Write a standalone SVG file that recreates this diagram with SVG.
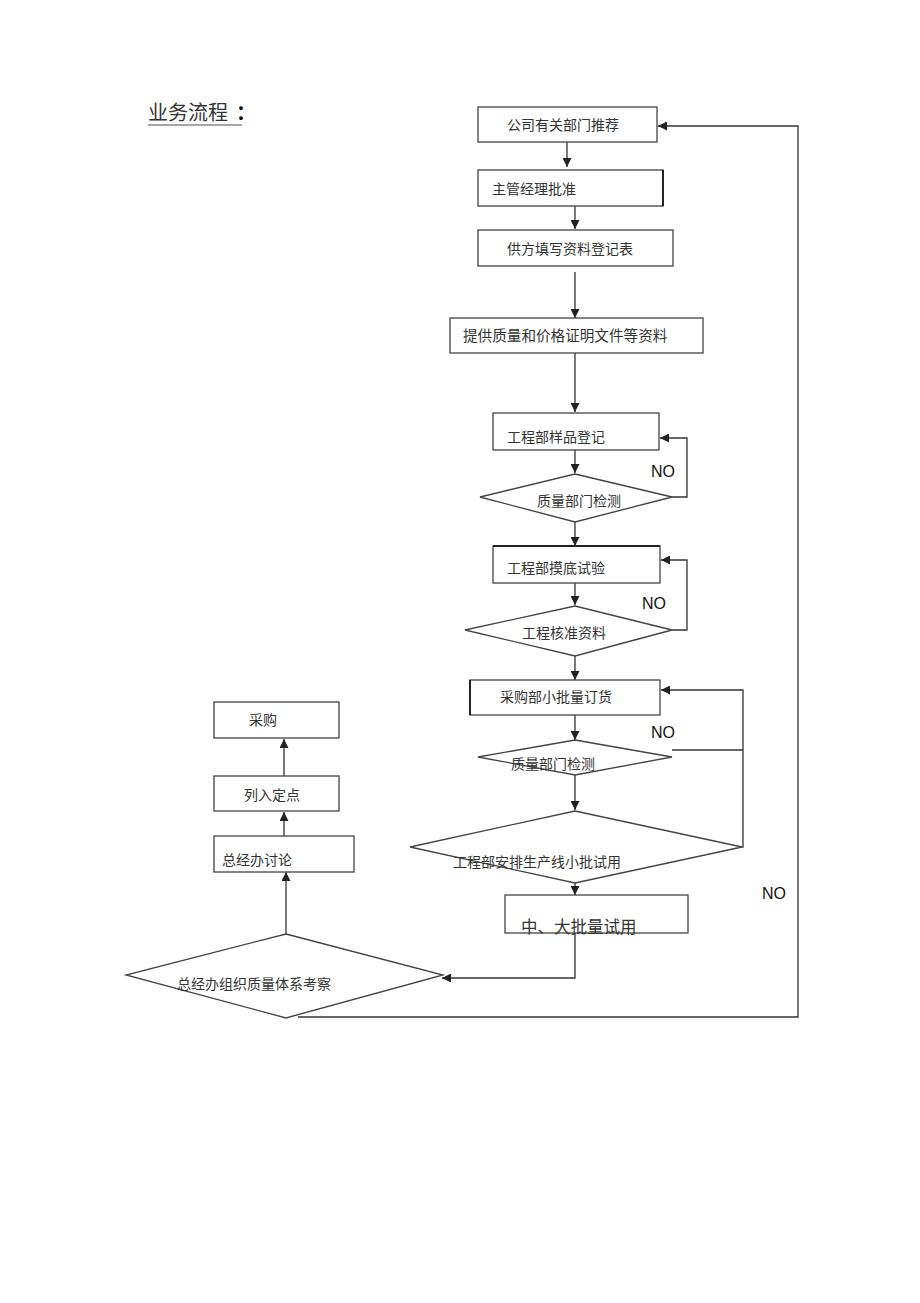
<svg xmlns="http://www.w3.org/2000/svg" width="920" height="1303" viewBox="0 0 920 1303">
<defs>
<marker id="ah" viewBox="0 0 10 10" refX="10" refY="5" markerWidth="9" markerHeight="9" markerUnits="userSpaceOnUse" orient="auto"><path d="M0,0 L10,5 L0,10 z" fill="#222"/></marker>
</defs>
<style>
.b{fill:#fff;stroke:#444;stroke-width:1.3}
.t{font-family:"Noto Sans CJK SC","Liberation Serif",sans-serif;font-size:14px;fill:#333}
.no{font-family:"Liberation Sans",Arial,sans-serif;font-size:16px;fill:#111}
.c{fill:none;stroke:#333;stroke-width:1.3}
.a{marker-end:url(#ah)}
</style>
<rect width="920" height="1303" fill="#fff"/>
<g id="title">
<text x="148" y="120" style="font-family:'Noto Sans CJK SC',sans-serif;font-size:20px;fill:#333">业务流程</text>
<text x="236" y="120" style="font-family:'Noto Sans CJK SC',sans-serif;font-size:20px;fill:#111;font-weight:bold">：</text>
<line x1="148" y1="125" x2="242" y2="125" stroke="#888" stroke-width="1.5"/>
</g>
<g id="connectors">
<path class="c a" d="M567,142 V167"/>
<path class="c a" d="M575,206 V229"/>
<path class="c a" d="M575,272 V318"/>
<path class="c a" d="M575,353 V412"/>
<path class="c a" d="M575,450 V473"/>
<path class="c a" d="M672,497 H687 V438 H660"/>
<path class="c a" d="M575,522 V546"/>
<path class="c a" d="M575,583 V605"/>
<path class="c a" d="M672,630 H687 V560 H661"/>
<path class="c a" d="M575,656 V680"/>
<path class="c a" d="M575,715 V740"/>
<path class="c" d="M672,750 H743"/>
<path class="c a" d="M742,847 H743 V690 H661"/>
<path class="c a" d="M575,775 V810"/>
<path class="c a" d="M575,883 V895"/>
<path class="c a" d="M575,926 V978 H442"/>
<path class="c a" d="M298,1017 H798 V126 H658"/>
<path class="c a" d="M286,934 V872"/>
<path class="c a" d="M284,836 V812"/>
<path class="c a" d="M284,776 V739"/>
</g>
<g id="n1"><rect class="b" x="478" y="107" width="179" height="35"/><text class="t" x="507" y="130">公司有关部门推荐</text></g>
<g id="n2"><rect class="b" x="478" y="170" width="185" height="36"/><line x1="663" y1="170" x2="663" y2="206" stroke="#222" stroke-width="2"/><text class="t" x="492" y="194">主管经理批准</text></g>
<g id="n3"><rect class="b" x="478" y="230" width="195" height="36"/><text class="t" x="507" y="254">供方填写资料登记表</text></g>
<g id="n4"><rect class="b" x="450" y="318" width="253" height="35"/><text class="t" x="463" y="341" style="font-size:14.6px">提供质量和价格证明文件等资料</text></g>
<g id="n5"><rect class="b" x="493" y="413" width="166" height="37"/><text class="t" x="507" y="442">工程部样品登记</text></g>
<g id="d1"><polygon class="b" points="575,474 672,497 575,522 480,497"/><text class="t" x="537" y="506">质量部门检测</text></g>
<g id="n6"><rect class="b" x="493" y="546" width="167" height="37"/><line x1="493" y1="546" x2="660" y2="546" stroke="#222" stroke-width="2"/><text class="t" x="507" y="573">工程部摸底试验</text></g>
<g id="d2"><polygon class="b" points="575,606 672,630 575,656 465,630"/><text class="t" x="522" y="638">工程核准资料</text></g>
<g id="n7"><rect class="b" x="470" y="680" width="190" height="35"/><line x1="470" y1="680" x2="470" y2="715" stroke="#222" stroke-width="2"/><text class="t" x="500" y="702">采购部小批量订货</text></g>
<g id="d3"><polygon class="b" points="575,740 672,757 575,775 478,757"/><text class="t" x="511" y="769">质量部门检测</text></g>
<g id="d4"><polygon class="b" points="575,811 742,847 575,883 410,847"/><text class="t" x="453" y="867">工程部安排生产线小批试用</text></g>
<g id="n8"><rect class="b" x="505" y="895" width="183" height="38"/><text class="t" x="521" y="933" style="font-size:16.5px">中、大批量试用</text></g>
<g id="d5"><polygon class="b" points="286,934 443,975 286,1018 126,975"/><text class="t" x="177" y="989">总经办组织质量体系考察</text></g>
<g id="n9"><rect class="b" x="214" y="836" width="140" height="36"/><text class="t" x="222" y="865">总经办讨论</text></g>
<g id="n10"><rect class="b" x="214" y="776" width="125" height="35"/><text class="t" x="244" y="800">列入定点</text></g>
<g id="n11"><rect class="b" x="214" y="702" width="125" height="36"/><text class="t" x="249" y="725">采购</text></g>
<g id="labels">
<text class="no" x="651" y="477">NO</text>
<text class="no" x="642" y="609">NO</text>
<text class="no" x="651" y="738">NO</text>
<text class="no" x="762" y="899">NO</text>
</g>
</svg>
